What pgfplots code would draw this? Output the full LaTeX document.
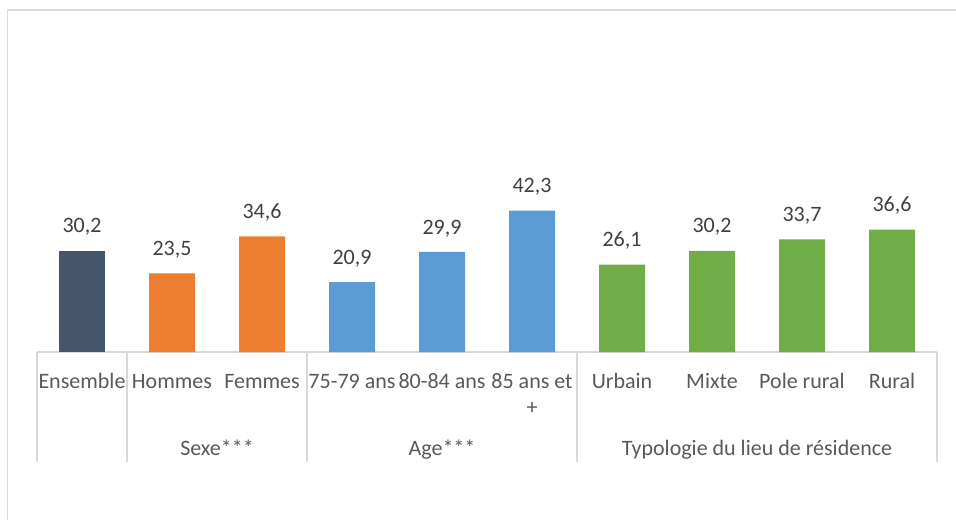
\documentclass[border=0pt]{standalone}
\usepackage{pgfplots}
\pgfplotsset{compat=1.18}
\usepackage{fontspec}
\setmainfont{Carlito}
\definecolor{cEns}{HTML}{44546A}
\definecolor{cOr}{HTML}{ED7D31}
\definecolor{cBl}{HTML}{5B9BD5}
\definecolor{cGr}{HTML}{70AD47}
\definecolor{gridgray}{HTML}{D9D9D9}
\definecolor{lbl}{HTML}{595959}
\definecolor{dlbl}{HTML}{404040}
\begin{document}
\fontsize{11}{13}\selectfont
\begin{tikzpicture}
\useasboundingbox (0,0) rectangle (478pt,259.5pt);
% chart frame (partly cut off)
\draw[gridgray, line width=0.75pt] (3.75pt,-2pt) -- (3.75pt,254.5pt) -- (480pt,254.5pt);
\begin{axis}[
  at={(18.5pt,83.5pt)}, anchor=south west,
  scale only axis, width=450pt, height=150.5pt,
  xmin=-0.5, xmax=9.5, ymin=0, ymax=90,
  axis x line=bottom, axis y line=none,
  x axis line style={draw=gridgray, line width=0.75pt, -},
  major tick length=0pt,
  ytick=\empty,
  xtick={0,1,2,3,4,5,6,7,8,9},
  xticklabels={Ensemble, Hommes, Femmes, 75-79 ans, 80-84 ans,
    {\begin{tabular}[t]{@{}c@{}}85 ans et\\[0pt]+\end{tabular}},
    Urbain, Mixte, Pole rural, Rural},
  xticklabel style={anchor=base, yshift=-18pt, text=lbl, font=\fontsize{11}{13}\selectfont},
  ybar, bar width=23pt,
  nodes near coords,
  /pgf/number format/.cd, use comma, fixed, fixed zerofill, precision=1, assume math mode=true,
  /pgfplots/.cd,
  every node near coord/.append style={anchor=base, yshift=9pt, text=dlbl, font=\fontsize{11}{13}\selectfont},
  clip=false,
]
\addplot[fill=cEns, draw=none, bar shift=0pt] coordinates {(0,30.2)};
\addplot[fill=cOr, draw=none, bar shift=0pt] coordinates {(1,23.5) (2,34.6)};
\addplot[fill=cBl, draw=none, bar shift=0pt] coordinates {(3,20.9) (4,29.9) (5,42.3)};
\addplot[fill=cGr, draw=none, bar shift=0pt] coordinates {(6,26.1) (7,30.2) (8,33.7) (9,36.6)};
\end{axis}
% category separators
\foreach \x in {37,127,307,577,937} {
  \draw[gridgray, line width=0.75pt] (\x*0.5pt,83.5pt) -- (\x*0.5pt,28.5pt);
}
\node[anchor=base, text=lbl, inner sep=0] at (108.5pt,32pt) {Sexe***};
\node[anchor=base, text=lbl, inner sep=0] at (221pt,32pt) {Age***};
\node[anchor=base, text=lbl, inner sep=0] at (378.5pt,32pt) {Typologie du lieu de résidence};
\end{tikzpicture}
\end{document}
